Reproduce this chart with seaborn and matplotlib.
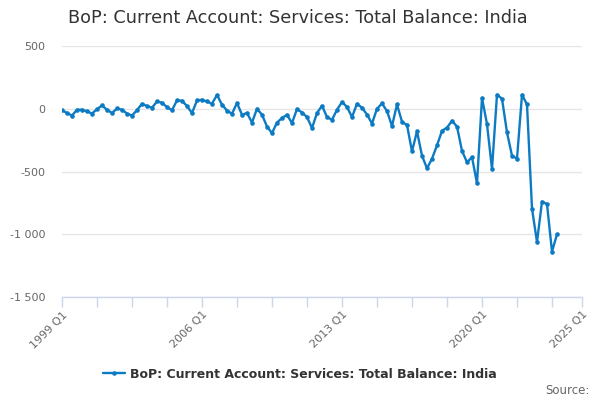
import numpy as np
import pandas as pd
import matplotlib
matplotlib.use("Agg")
import matplotlib.pyplot as plt
import seaborn as sns

# === Data (quarterly, 1999 Q1 - 2023 Q4) ===
years = list(range(1999, 2024))
quarters = ["Q1", "Q2", "Q3", "Q4"]
balance = [
    -11, -34, -54, -8,      # 1999
    -8, -21, -38, -3,       # 2000
    26, -8, -34, 2,         # 2001
    -8, -38, -54, -11,      # 2002
    40, 21, 8, 58,          # 2003
    48, 13, -11, 66,        # 2004
    64, 21, -34, 66,        # 2005
    72, 58, 40, 110,        # 2006
    32, -14, -40, 46,       # 2007
    -48, -34, -110, 0,      # 2008
    -48, -142, -194, -110,  # 2009
    -74, -48, -114, -2,     # 2010
    -30, -66, -154, -34,    # 2011
    24, -66, -88, -8,       # 2012
    54, 14, -66, 40,        # 2013
    8, -46, -118, 0,        # 2014
    42, -18, -138, 34,      # 2015
    -104, -130, -340, -180, # 2016
    -374, -475, -398, -292, # 2017
    -176, -150, -96, -142,  # 2018
    -336, -426, -386, -594, # 2019
    86, -122, -480, 112,    # 2020
    80, -189, -374, -398,   # 2021
    112, 34, -796, -1062,   # 2022
    -740, -760, -1138, -1000,  # 2023
]
series_name = "BoP: Current Account: Services: Total Balance: India"

labels = [f"{y} {q}" for y in years for q in quarters]
df = pd.DataFrame({"Quarter": labels, "Value": balance})
df["t"] = np.arange(len(df))

sns.set_style("white")
plt.rcParams["font.family"] = ["DejaVu Sans"]

line_color = "#0d7bc3"

fig = plt.figure(figsize=(6, 4), dpi=100)
ax = fig.add_axes([62 / 600, 1 - 297 / 400, 520 / 600, 251 / 400])

sns.lineplot(
    data=df, x="t", y="Value", ax=ax,
    color=line_color, linewidth=1.7,
    marker="o", markersize=3.3, markeredgewidth=0,
    label=series_name,
)

# axes
ax.set_xlim(0, 104)
ax.set_ylim(-1500, 500)
ax.set_yticks([500, 0, -500, -1000, -1500])
ax.set_yticklabels(["500", "0", "-500", "-1 000", "-1 500"])
ax.grid(axis="y", color="#e6e6e6", linewidth=1)
ax.set_axisbelow(True)

major = [0, 28, 56, 84, 104]
major_labels = ["1999 Q1", "2006 Q1", "2013 Q1", "2020 Q1", "2025 Q1"]
minor = list(range(0, 104, 7)) + [104]
ax.set_xticks(minor, minor=True)
ax.set_xticks(major)
ax.set_xticklabels(major_labels, rotation=45, ha="right", rotation_mode="anchor")
ax.tick_params(axis="x", which="both", bottom=True, direction="out",
               length=7, color="#ccd6eb", width=1,
               labelsize=8, labelcolor="#666666", pad=2)
ax.tick_params(axis="y", left=False, length=0, labelsize=8,
               labelcolor="#666666", pad=12)

for s in ["top", "right", "left"]:
    ax.spines[s].set_visible(False)
ax.spines["bottom"].set_color("#ccd6eb")
ax.spines["bottom"].set_linewidth(1)
ax.set_xlabel("")
ax.set_ylabel("")

# title, legend, source
fig.text(298 / 600, 0.955, series_name, ha="center", va="center",
         fontsize=12.7, color="#333333")

leg = ax.legend(loc="center", bbox_to_anchor=(0.5, 1 - 374 / 400),
                bbox_transform=fig.transFigure, frameon=False,
                fontsize=9, handlelength=1.8, handletextpad=0.4)
for t in leg.get_texts():
    t.set_fontweight("bold")
    t.set_color("#333333")

fig.text(0.983, 1 - 390 / 400, "Source:", ha="right", va="center",
         fontsize=8.5, color="#666666")

fig.savefig("out.png", dpi=100)
plt.close(fig)
